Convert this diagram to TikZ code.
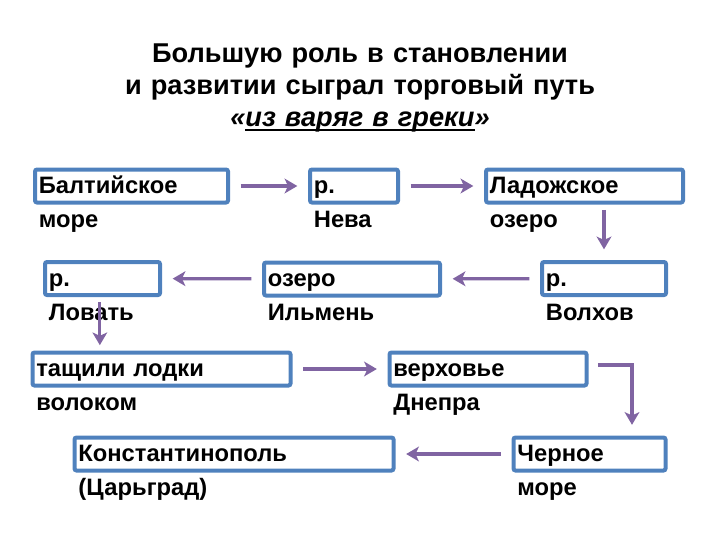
\documentclass[tikz,border=0pt]{standalone}
\usepackage{fontspec}
\setmainfont{Liberation Sans}
\usetikzlibrary{arrows.meta}
\definecolor{boxblue}{RGB}{79,129,189}
\definecolor{pathpurple}{RGB}{128,100,162}
\newcommand{\routeul}[1]{\setbox0\hbox{#1}\rlap{\rule[-3.4pt]{\wd0}{1.4pt}}\box0}

\begin{document}
\begin{tikzpicture}[x=0.75pt,y=-0.75pt,
  place/.style={draw=boxblue, line width=3pt, rounded corners=1.5pt,
    minimum width=#1*0.75pt, minimum height=24.75pt, inner sep=0pt},
  placename/.style={anchor=base west, inner sep=0pt, text width=9cm, align=left,
    font=\fontsize{17.8}{25.5}\selectfont\bfseries},
  way/.style={draw=pathpurple, line width=2.4pt,
    -{Stealth[length=9.5pt,width=11pt,inset=2.5pt]}, shorten <=8pt, shorten >=8pt}]
\useasboundingbox (0,0) rectangle (720,540);

% title
\node[anchor=base, text width=15cm, align=center,
  font=\fontsize{20.4}{24}\selectfont\bfseries] (head) at (360,62)
  {Большую роль в становлении\\и развитии сыграл торговый путь\\\textit{«\routeul{из варяг в греки}»}};

% boxes
\node[place=193] (baltic) at (131.5,186) {};
\node[place=88] (neva) at (354,186) {};
\node[place=197] (ladoga) at (584.5,186) {};
\node[place=124] (volkhov) at (604,278.5) {};
\node[place=176] (ilmen) at (352,279) {};
\node[place=115] (lovat) at (102.5,278.5) {};
\node[place=258] (drag) at (161.5,369) {};
\node[place=197] (dnepr) at (488,369) {};
\node[place=152] (black) at (589.5,454) {};
\node[place=319] (tsargrad) at (234,454) {};

% names, first line inside the box, second below it
\node[placename] (baltic-t) at ([xshift=4.2pt,yshift=-19.8pt]baltic.north west) {Балтийское\\море};
\node[placename] (neva-t) at ([xshift=4.2pt,yshift=-19.8pt]neva.north west) {р.\\Нева};
\node[placename] (ladoga-t) at ([xshift=4.2pt,yshift=-19.8pt]ladoga.north west) {Ладожское\\озеро};
\node[placename] (volkhov-t) at ([xshift=4.2pt,yshift=-19.8pt]volkhov.north west) {р.\\Волхов};
\node[placename] (ilmen-t) at ([xshift=4.2pt,yshift=-19.8pt]ilmen.north west) {озеро\\Ильмень};
\node[placename] (lovat-t) at ([xshift=4.2pt,yshift=-19.8pt]lovat.north west) {р.\\Ловать};
\node[placename] (drag-t) at ([xshift=4.2pt,yshift=-19.8pt]drag.north west) {тащили лодки\\волоком};
\node[placename] (dnepr-t) at ([xshift=4.2pt,yshift=-19.8pt]dnepr.north west) {верховье\\Днепра};
\node[placename] (black-t) at ([xshift=4.2pt,yshift=-19.8pt]black.north west) {Черное\\море};
\node[placename] (tsargrad-t) at ([xshift=4.2pt,yshift=-19.8pt]tsargrad.north west) {Константинополь\\(Царьград)};

% the route
\coordinate (bend) at (632,365);
\draw[way] (baltic) -- (neva);
\draw[way] (neva) -- (ladoga);
\draw[way, shorten <=4pt] (ladoga.south -| volkhov) -- (volkhov.north);
\draw[way] (volkhov) -- (ilmen);
\draw[way] (ilmen) -- (lovat);
\draw[way, shorten <=4pt, shorten >=4pt] ([xshift=-2pt]lovat.south) -- ([xshift=-2pt]lovat.south |- drag.north);
\draw[way] (drag) -- (dnepr);
\draw[way, shorten <=7pt] (dnepr.east |- bend) -- (bend) -- (bend |- black.north);
\draw[way] (black) -- (tsargrad);
\end{tikzpicture}
\end{document}
